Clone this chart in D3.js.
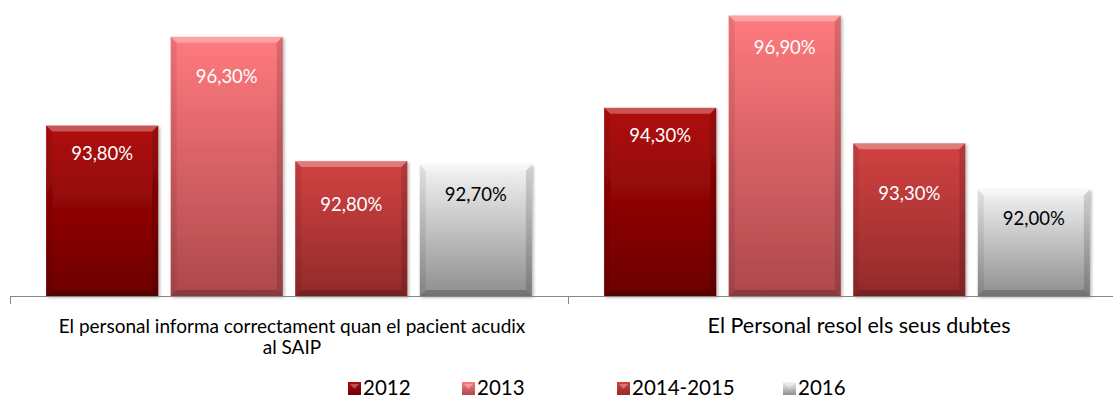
<!DOCTYPE html>
<html>
<head>
<meta charset="utf-8">
<script src="https://cdn.jsdelivr.net/npm/d3@7"></script>
<style>
  body { margin: 0; background: #fff; }
  svg { display: block; font-family: Lato, "Open Sans", sans-serif; }
</style>
</head>
<body>
<script>
const width = 1113;
const height = 400;

// data
const categories = [
  "El personal informa correctament quan el pacient acudix al SAIP",
  "El Personal resol els seus dubtes"
];
const series = ["2012", "2013", "2014-2015", "2016"];
const values = [
  [93.8, 96.3, 92.8, 92.7],
  [94.3, 96.9, 93.3, 92.0]
];
// small nudges of the value labels below bar tops, as in the original
const labelDy = [
  [34, 46, 50, 36],
  [34, 38, 57, 35]
];

// colours: [top, bottom] of the body gradient, label colour
const barColors = {
  "2012":      ["#b00c0c", "#6c0000", "#fff"],
  "2013":      ["#ff7a7e", "#ad484c", "#fff"],
  "2014-2015": ["#d24242", "#922a2a", "#fff"],
  "2016":      ["#f4f4f4", "#8e8e8e", "#000"]
};
const legendX = [348, 462, 617, 783];

const baseY = 296;

const svg = d3.select("body")
  .append("svg")
  .attr("width", width)
  .attr("height", height);

const defs = svg.append("defs");

series.forEach((s, i) => {
  const g = defs.append("linearGradient")
    .attr("id", "grad" + i)
    .attr("x1", 0).attr("y1", 0).attr("x2", 0).attr("y2", 1);
  g.append("stop").attr("offset", "0%").attr("stop-color", barColors[s][0]);
  g.append("stop").attr("offset", "100%").attr("stop-color", barColors[s][1]);
});

const shadow = defs.append("filter")
  .attr("id", "shadow")
  .attr("x", "-10%").attr("y", "-10%")
  .attr("width", "130%").attr("height", "130%");
shadow.append("feDropShadow")
  .attr("dx", 1.5).attr("dy", 1.5)
  .attr("stdDeviation", 1.5)
  .attr("flood-color", "#000")
  .attr("flood-opacity", 0.3);

const x0 = d3.scaleBand()
  .domain(categories)
  .range([10, 1126]);

const x1 = d3.scaleBand()
  .domain(series)
  .range([0, x0.bandwidth()])
  .paddingInner(0.1)
  .paddingOuter(0.29);

const y = d3.scaleLinear()
  .domain([89, 97])
  .range([baseY, baseY - 8 * 35.5]);

// bars
categories.forEach((cat, ci) => {
  series.forEach((s, si) => {
    const v = values[ci][si];
    const bx = x0(cat) + x1(s);
    const by = y(v);
    const bw = x1.bandwidth();
    const bh = baseY - by;
    const b = 6;

    const g = svg.append("g").attr("filter", "url(#shadow)");

    g.append("rect")
      .attr("x", bx).attr("y", by)
      .attr("width", bw).attr("height", bh)
      .attr("fill", `url(#grad${si})`);

    // bevel: top light, sides and bottom darker
    g.append("path")
      .attr("d", `M${bx},${by}L${bx + bw},${by}L${bx + bw - b},${by + b}L${bx + b},${by + b}Z`)
      .attr("fill", "#fff").attr("fill-opacity", 0.3);
    g.append("path")
      .attr("d", `M${bx},${by}L${bx + b},${by + b}L${bx + b},${by + bh - b}L${bx},${by + bh}Z`)
      .attr("fill", "#000").attr("fill-opacity", 0.08);
    g.append("path")
      .attr("d", `M${bx + bw},${by}L${bx + bw - b},${by + b}L${bx + bw - b},${by + bh - b}L${bx + bw},${by + bh}Z`)
      .attr("fill", "#000").attr("fill-opacity", 0.14);
    g.append("path")
      .attr("d", `M${bx},${by + bh}L${bx + b},${by + bh - b}L${bx + bw - b},${by + bh - b}L${bx + bw},${by + bh}Z`)
      .attr("fill", "#000").attr("fill-opacity", 0.2);

    svg.append("text")
      .attr("x", bx + bw / 2)
      .attr("y", by + labelDy[ci][si])
      .attr("text-anchor", "middle")
      .attr("font-size", "18.5px")
      .attr("fill", barColors[s][2])
      .text(v.toFixed(2).replace(".", ",") + "%");
  });
});

// axis line and tick marks at group boundaries
const axis = svg.append("g").attr("stroke", "#868686").attr("stroke-width", 1);
axis.append("line")
  .attr("x1", x0.range()[0]).attr("x2", width)
  .attr("y1", baseY + 0.5).attr("y2", baseY + 0.5);
categories.forEach(cat => {
  const tx = Math.round(x0(cat)) + 0.5;
  axis.append("line")
    .attr("x1", tx).attr("x2", tx)
    .attr("y1", baseY).attr("y2", baseY + 8);
});

// category labels (wrapped)
function wrapLines(text, maxW, size) {
  const probe = svg.append("text").attr("font-size", size);
  const words = text.split(" ");
  const lines = [];
  let cur = [];
  words.forEach(w => {
    cur.push(w);
    probe.text(cur.join(" "));
    if (probe.node().getComputedTextLength() > maxW && cur.length > 1) {
      cur.pop();
      lines.push(cur.join(" "));
      cur = [w];
    }
  });
  lines.push(cur.join(" "));
  probe.remove();
  return lines;
}

const catFont = ["19px", "21.5px"];
const catShift = [2, 11];
categories.forEach((cat, ci) => {
  const lines = wrapLines(cat, 485, catFont[ci]);
  const t = svg.append("text")
    .attr("text-anchor", "middle")
    .attr("font-size", catFont[ci])
    .attr("fill", "#000");
  lines.forEach((ln, li) => {
    t.append("tspan")
      .attr("x", x0(cat) + 280 + catShift[ci])
      .attr("y", 333 + li * 21)
      .text(ln);
  });
});

// legend
const legend = svg.append("g");
series.forEach((s, i) => {
  legend.append("rect")
    .attr("x", legendX[i]).attr("y", 382)
    .attr("width", 13).attr("height", 13)
    .attr("fill", `url(#grad${i})`);
  legend.append("path")
    .attr("d", `M${legendX[i] + 2},${384}L${legendX[i] + 11},${384}L${legendX[i] + 6.5},${389}Z`)
    .attr("fill", "#fff").attr("fill-opacity", 0.3);
  legend.append("text")
    .attr("x", legendX[i] + 15)
    .attr("y", 395)
    .attr("font-size", "20.5px")
    .attr("fill", "#000")
    .text(s);
});
</script>
</body>
</html>
